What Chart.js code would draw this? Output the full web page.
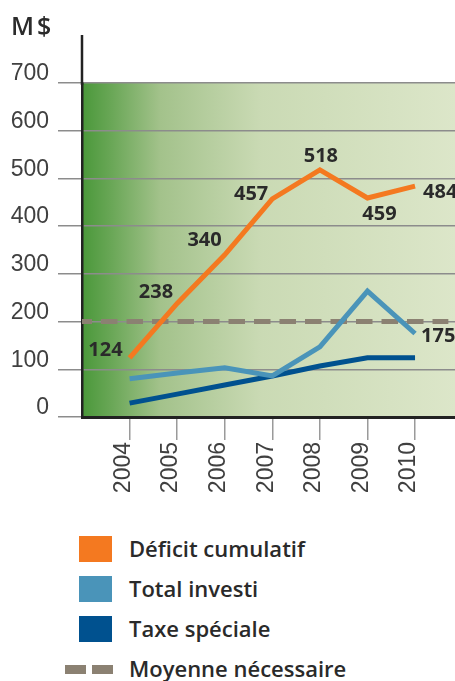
<!DOCTYPE html>
<html lang="fr">
<head>
<meta charset="utf-8">
<script src="https://cdn.jsdelivr.net/npm/chart.js@4"></script>
<style>
    html, body { margin: 0; padding: 0; background: #fff; }
    body { width: 455px; height: 681px; position: relative; overflow: hidden; }
    #wrap { position: absolute; left: 0; top: 0; width: 455px; height: 520px; }
    .unit {
        position: absolute; left: 11px; top: 8px;
        font: 600 25px "Open Sans", sans-serif; color: #2b2b2b; letter-spacing: 3px;
    }
    .legend { position: absolute; left: 0; top: 529px; }
    .legend .row { position: relative; height: 40px; }
    .legend .box { position: absolute; left: 79px; top: 7px; width: 33px; height: 26px; }
    .legend .dash { position: absolute; top: 16px; width: 21px; height: 9px; }
    .legend .txt {
        position: absolute; left: 129px; top: 4px; white-space: nowrap;
        font: 600 22px "Open Sans", sans-serif; color: #2a2a2a;
    }
</style>
</head>
<body>
<div id="wrap"><canvas id="chart" width="455" height="520"></canvas></div>
<div class="unit">M$</div>
<div class="legend" id="legend"></div>

<script>
/* ---------- data ---------- */
const YEARS = [2004, 2005, 2006, 2007, 2008, 2009, 2010];
const DEFICIT = [124, 238, 340, 457, 518, 459, 484];
const INVESTI = [80, 92, 103, 86, 147, 264, 175];
const TAXE = [29, 48, 67, 86, 107, 124, 124];
const MOYENNE = 200;
const Y_TICKS = [0, 100, 200, 300, 400, 500, 600, 700];
const SERIES_NAMES = ['Déficit cumulatif', 'Total investi', 'Taxe spéciale', 'Moyenne nécessaire'];
const COLORS = ['#f47920', '#4a94b9', '#00518f', '#8b8172'];

const pts = vals => YEARS.map((y, i) => ({ x: y, y: vals[i] }));

/* ---------- plugins ---------- */
// green gradient behind the plot
const bgPlugin = {
    id: 'bg',
    beforeDraw(chart) {
        const { ctx, chartArea: a } = chart;
        const g = ctx.createLinearGradient(a.left, 0, a.right, 0);
        g.addColorStop(0, '#4a983a');
        g.addColorStop(0.08, '#6aa757');
        g.addColorStop(0.21, '#a3c28b');
        g.addColorStop(0.48, '#cadab4');
        g.addColorStop(1, '#dce6c9');
        ctx.save();
        ctx.fillStyle = g;
        ctx.fillRect(a.left, a.top, a.right - a.left, a.bottom - a.top);
        ctx.restore();
    },
    afterDraw(chart) {
        // y axis line runs up past the 700 line
        const { ctx, chartArea: a } = chart;
        ctx.save();
        ctx.strokeStyle = '#222';
        ctx.lineWidth = 2.5;
        ctx.beginPath();
        ctx.moveTo(a.left, a.top - 48);
        ctx.lineTo(a.left, a.top + 2);
        ctx.stroke();
        ctx.restore();
    }
};

// value labels next to the points
const LABELS = [
    { ds: 0, i: 0, align: 'right', dx: -7, dy: -8 },
    { ds: 0, i: 1, align: 'right', dx: -4, dy: -11 },
    { ds: 0, i: 2, align: 'right', dx: -3, dy: -14 },
    { ds: 0, i: 3, align: 'right', dx: -4, dy: -5 },
    { ds: 0, i: 4, align: 'center', dx: 1, dy: -14 },
    { ds: 0, i: 5, align: 'center', dx: 12, dy: 16 },
    { ds: 0, i: 6, align: 'left', dx: 8, dy: 6 },
    { ds: 1, i: 6, align: 'left', dx: 6, dy: 3 }
];
const labelPlugin = {
    id: 'valueLabels',
    afterDatasetsDraw(chart) {
        const { ctx } = chart;
        ctx.save();
        ctx.font = 'bold 20px "Open Sans", sans-serif';
        ctx.fillStyle = '#2a2a2a';
        ctx.textBaseline = 'middle';
        LABELS.forEach(l => {
            const el = chart.getDatasetMeta(l.ds).data[l.i];
            const v = chart.data.datasets[l.ds].data[l.i].y;
            ctx.textAlign = l.align;
            ctx.fillText(String(v), el.x + l.dx, el.y + l.dy);
        });
        ctx.restore();
    }
};

const tickFont = { family: '"Liberation Sans", Arial, sans-serif', size: 23 };

/* ---------- chart ---------- */
new Chart(document.getElementById('chart'), {
    type: 'line',
    data: {
        datasets: [
            { label: SERIES_NAMES[0], data: pts(DEFICIT), borderColor: COLORS[0], order: 1 },
            { label: SERIES_NAMES[1], data: pts(INVESTI), borderColor: COLORS[1], order: 2 },
            { label: SERIES_NAMES[2], data: pts(TAXE), borderColor: COLORS[2], order: 3 },
            {
                label: SERIES_NAMES[3],
                data: [{ x: 2003, y: MOYENNE }, { x: 2010.7, y: MOYENNE }],
                borderColor: COLORS[3], borderDash: [16.5, 9], borderDashOffset: 6.5,
                borderCapStyle: 'butt', order: 10
            }
        ]
    },
    options: {
        responsive: false,
        animation: false,
        events: [],
        layout: { padding: { top: 83, left: 0, right: 0, bottom: 0 } },
        elements: {
            line: { borderWidth: 5, tension: 0, fill: false, borderJoinStyle: 'miter' },
            point: { radius: 0 }
        },
        plugins: { legend: { display: false }, tooltip: { enabled: false } },
        scales: {
            x: {
                type: 'linear',
                min: 2003,
                max: 2010.84,
                afterBuildTicks: s => { s.ticks = YEARS.map(v => ({ value: v })); },
                afterFit: s => { s.height = 103; },
                ticks: {
                    callback: v => String(v),
                    minRotation: 90, maxRotation: 90,
                    padding: 2, labelOffset: -6,
                    color: '#404040',
                    font: tickFont
                },
                grid: { drawOnChartArea: false, tickLength: 23, color: '#9a9a9a', lineWidth: 1.5 },
                border: { color: '#222', width: 3 }
            },
            y: {
                min: 0,
                max: 700,
                afterBuildTicks: s => { s.ticks = Y_TICKS.map(v => ({ value: v })); },
                afterFit: s => { s.width = 82; },
                ticks: {
                    callback: v => String(v),
                    padding: 9, labelOffset: -9,
                    color: '#404040',
                    font: tickFont
                },
                grid: { tickLength: 24, color: '#8c8c8c', lineWidth: 1.5 },
                border: { color: '#222', width: 2.5 }
            }
        }
    },
    plugins: [bgPlugin, labelPlugin]
});

/* ---------- legend ---------- */
const legend = document.getElementById('legend');
SERIES_NAMES.forEach((name, i) => {
    const row = document.createElement('div');
    row.className = 'row';
    if (i < 3) {
        row.innerHTML = `<div class="box" style="background:${COLORS[i]}"></div>`;
    } else {
        row.innerHTML = `<div class="dash" style="left:65px;background:${COLORS[i]}"></div>
                         <div class="dash" style="left:92px;background:${COLORS[i]}"></div>`;
    }
    const t = document.createElement('div');
    t.className = 'txt';
    t.textContent = name;
    row.appendChild(t);
    legend.appendChild(row);
});
</script>
</body>
</html>
